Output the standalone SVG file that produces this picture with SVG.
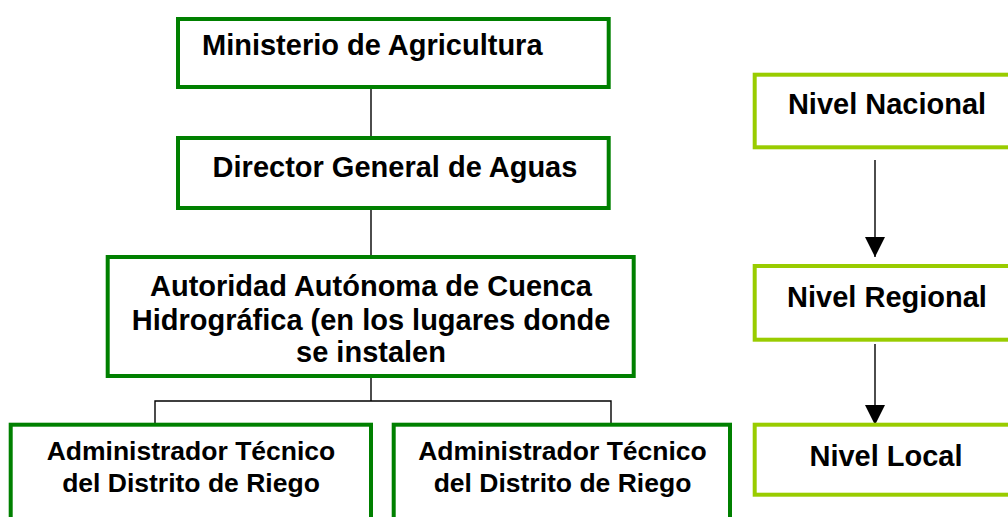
<svg xmlns="http://www.w3.org/2000/svg" width="1008" height="517" viewBox="0 0 1008 517">
<defs>
<style>
.org{fill:#fff;stroke:#008000;stroke-width:4}
.lvl{fill:#fff;stroke:#99CC00;stroke-width:4}
.t{font-family:"Liberation Sans",Arial,sans-serif;font-weight:bold;fill:#000;text-anchor:middle}
.t29{font-size:29px}
.t26{font-size:26.5px}
.ln{stroke:#000;stroke-width:1.4;fill:none}
</style>
<marker id="ah" markerUnits="userSpaceOnUse" markerWidth="20" markerHeight="20" viewBox="0 0 20 20" refX="20" refY="10" orient="auto">
<path d="M0,0 L20,10 L0,20 Z" fill="#000"/>
</marker>
</defs>
<rect width="1008" height="517" fill="#fff"/>
<g id="connectors">
<line class="ln" x1="371" y1="89" x2="371" y2="136"/>
<line class="ln" x1="371" y1="210" x2="371" y2="255"/>
<line class="ln" x1="371" y1="378" x2="371" y2="401"/>
<polyline class="ln" points="155,423 155,401 611,401 611,423"/>
<line class="ln" x1="875" y1="160" x2="875" y2="257" marker-end="url(#ah)"/>
<line class="ln" x1="875" y1="344" x2="875" y2="425" marker-end="url(#ah)"/>
</g>
<g id="ministerio">
<rect class="org" x="178" y="19" width="430.7" height="68"/>
<text class="t t29" x="202" y="55" style="text-anchor:start">Ministerio de Agricultura</text>
</g>
<g id="director">
<rect class="org" x="178" y="138" width="430.7" height="70"/>
<text class="t t29" x="395" y="177">Director General de Aguas</text>
</g>
<g id="autoridad">
<rect class="org" x="107.7" y="257" width="526" height="119"/>
<text class="t t29" x="371" y="296">Autoridad Autónoma de Cuenca</text>
<text class="t t29" x="371" y="329.5">Hidrográfica (en los lugares donde</text>
<text class="t t29" x="371" y="362">se instalen</text>
</g>
<g id="admin1">
<rect class="org" x="10.7" y="424.7" width="360.3" height="120"/>
<text class="t t26" x="191" y="460">Administrador Técnico</text>
<text class="t t26" x="191" y="491.7">del Distrito de Riego</text>
</g>
<g id="admin2">
<rect class="org" x="393.7" y="424.7" width="336.3" height="120"/>
<text class="t t26" x="562.5" y="460">Administrador Técnico</text>
<text class="t t26" x="562.5" y="491.7">del Distrito de Riego</text>
</g>
<g id="nivel-nacional">
<rect class="lvl" x="754.7" y="74.7" width="270" height="72.6"/>
<text class="t t29" x="887" y="114.3">Nivel Nacional</text>
</g>
<g id="nivel-regional">
<rect class="lvl" x="754.7" y="266" width="270" height="73.7"/>
<text class="t t29" x="887" y="306.7">Nivel Regional</text>
</g>
<g id="nivel-local">
<rect class="lvl" x="754.7" y="424.7" width="270" height="70"/>
<text class="t t29" x="886" y="466">Nivel Local</text>
</g>
</svg>
